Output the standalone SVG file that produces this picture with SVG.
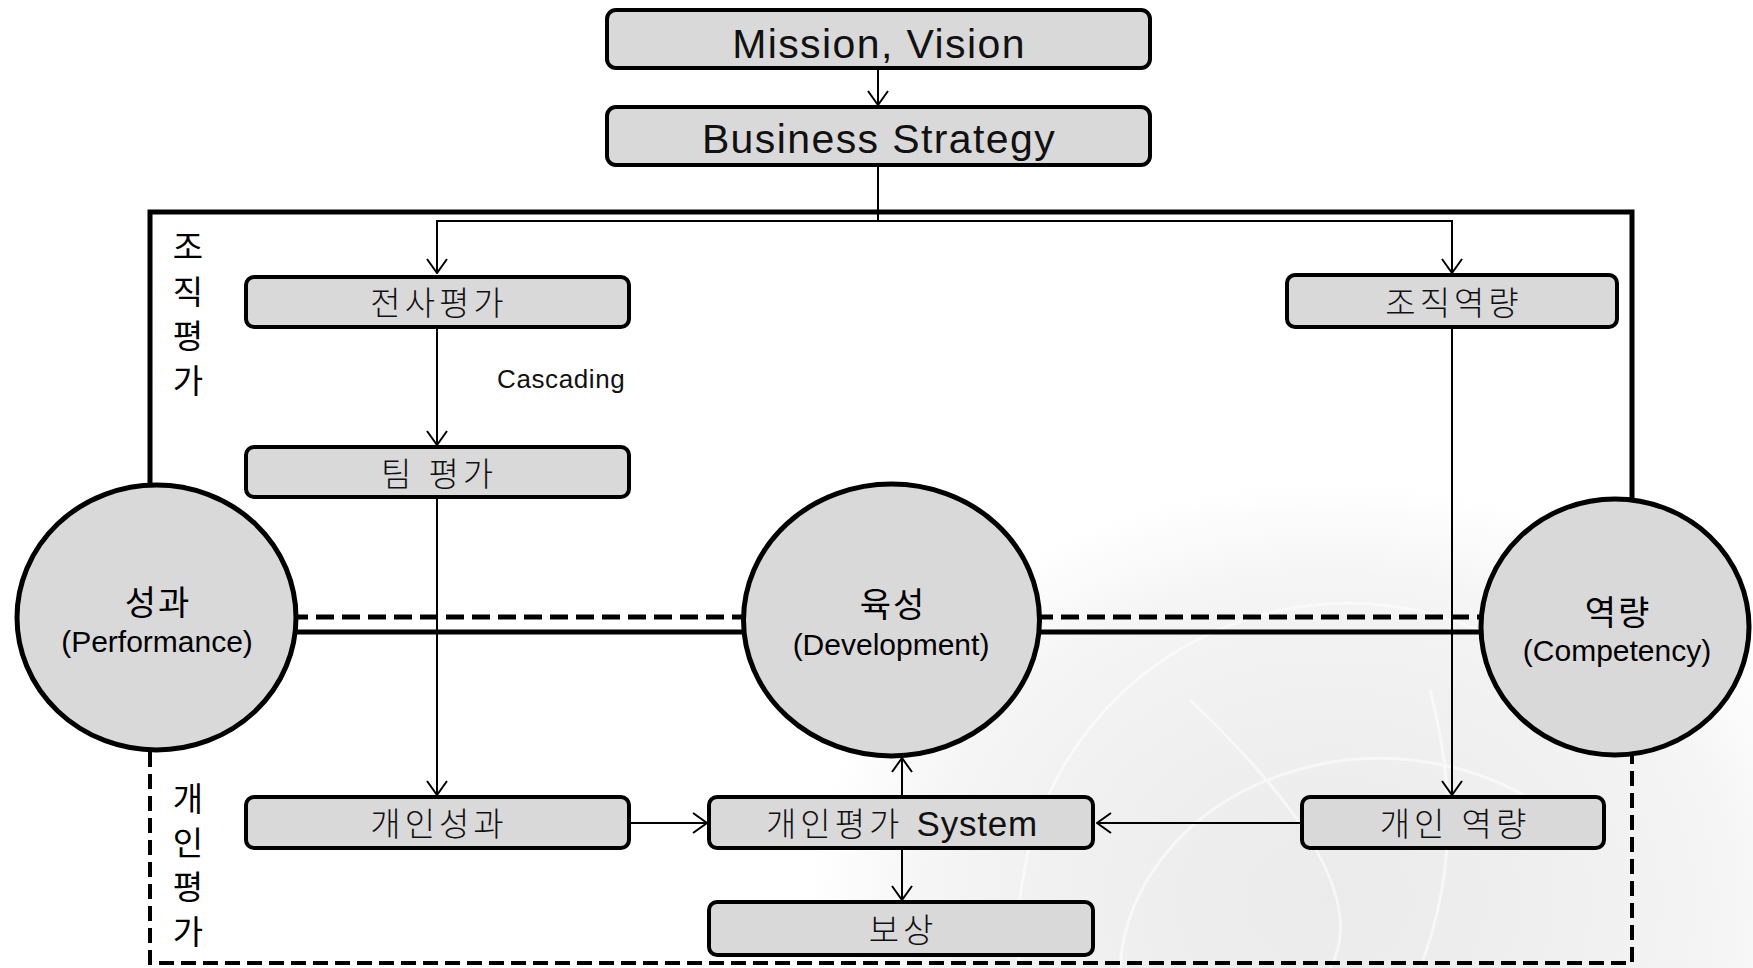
<svg xmlns="http://www.w3.org/2000/svg" width="1753" height="968" viewBox="0 0 1753 968">
  <defs>
    <style>
      .box { fill: #d9d9d9; stroke: #000; stroke-width: 4; }
      .hub { fill: #d9d9d9; stroke: #000; stroke-width: 5; }
      .conn { fill: none; stroke: #000; stroke-width: 2; }
      .frame { fill: none; stroke: #000; stroke-width: 5; }
      .frame-dash { fill: none; stroke: #000; stroke-width: 4; stroke-dasharray: 15 7; }
      .band { fill: none; stroke: #000; stroke-width: 5; }
      .band-dash { fill: none; stroke: #000; stroke-width: 5; stroke-dasharray: 18 8; }
      .title { font-family: "Liberation Sans", Arial, sans-serif; font-size: 41px; letter-spacing: 1.4px; fill: #111; text-anchor: middle; }
      .lbl { font-family: "Liberation Sans", "Noto Sans CJK KR", sans-serif; font-size: 33px; font-weight: 300; letter-spacing: 4px; fill: #111; text-anchor: middle; }
      .lat { font-size: 35px; letter-spacing: 0.8px; }
      .side { font-family: "Noto Sans CJK KR", sans-serif; font-size: 33px; fill: #000; text-anchor: middle; }
      .hub-ko { font-family: "Noto Sans CJK KR", sans-serif; font-size: 34px; letter-spacing: 2px; fill: #000; text-anchor: middle; }
      .hub-en { font-family: "Liberation Sans", Arial, sans-serif; font-size: 30px; fill: #000; text-anchor: middle; }
      .note { font-family: "Liberation Sans", Arial, sans-serif; font-size: 26px; letter-spacing: 0.6px; fill: #111; }
    </style>
    <marker id="arrow" viewBox="0 0 16 22" refX="15" refY="11" markerWidth="16" markerHeight="22" markerUnits="userSpaceOnUse" orient="auto">
      <path d="M1,1 L15,11 L1,21" fill="none" stroke="#000" stroke-width="2"/>
    </marker>
    <radialGradient id="haze" cx="0.5" cy="0.5" r="0.5">
      <stop offset="0" stop-color="#e9e9e9"/>
      <stop offset="0.7" stop-color="#f2f2f2"/>
      <stop offset="1" stop-color="#ffffff"/>
    </radialGradient>
  </defs>

  <rect width="1753" height="968" fill="#fff"/>

  <!-- faint globe backdrop, lower right -->
  <g id="backdrop" opacity="0.9">
    <ellipse cx="1330" cy="900" rx="520" ry="420" fill="url(#haze)"/>
    <g fill="none" stroke="#fff" stroke-width="3" opacity="0.6">
      <path d="M1020,968 A330,330 0 0 1 1600,720"/>
      <path d="M1120,968 A260,220 0 0 1 1560,820"/>
      <path d="M1190,700 Q1380,880 1330,968"/>
      <path d="M1430,690 Q1470,840 1420,968"/>
    </g>
  </g>

  <!-- outer frame: organisational (solid) and individual (dashed) -->
  <g id="frame">
    <path class="frame" d="M150,485 V212 H1632 V499"/>
    <path class="frame-dash" d="M150,752 V963 H1632 V756"/>
  </g>

  <!-- double band linking the three hubs -->
  <g id="band">
    <line class="band-dash" x1="290" y1="617" x2="750" y2="617"/>
    <line class="band-dash" x1="1035" y1="617" x2="1485" y2="617"/>
    <line class="band" x1="290" y1="632" x2="750" y2="632"/>
    <line class="band" x1="1035" y1="632" x2="1485" y2="632"/>
  </g>

  <g id="connectors">
    <line class="conn" x1="878" y1="70" x2="878" y2="105" marker-end="url(#arrow)"/>
    <path class="conn" d="M878,167 V221"/>
    <path class="conn" d="M437,273 V221 H1452 V273" marker-end="url(#arrow)"/>
    <line class="conn" x1="437" y1="221" x2="437" y2="273" marker-end="url(#arrow)"/>
    <line class="conn" x1="437" y1="328" x2="437" y2="445" marker-end="url(#arrow)"/>
    <line class="conn" x1="437" y1="499" x2="437" y2="795" marker-end="url(#arrow)"/>
    <line class="conn" x1="1452" y1="329" x2="1452" y2="795" marker-end="url(#arrow)"/>
    <line class="conn" x1="631" y1="823" x2="707" y2="823" marker-end="url(#arrow)"/>
    <line class="conn" x1="1300" y1="823" x2="1097" y2="823" marker-end="url(#arrow)"/>
    <line class="conn" x1="902" y1="850" x2="902" y2="900" marker-end="url(#arrow)"/>
  </g>

  <text class="note" x="497" y="388">Cascading</text>

  <!-- side labels -->
  <g id="label-org">
    <text class="side" x="188" y="259">조</text>
    <text class="side" x="188" y="304">직</text>
    <text class="side" x="188" y="348">평</text>
    <text class="side" x="188" y="393">가</text>
  </g>
  <g id="label-ind">
    <text class="side" x="188" y="811">개</text>
    <text class="side" x="188" y="855">인</text>
    <text class="side" x="188" y="899">평</text>
    <text class="side" x="188" y="944">가</text>
  </g>

  <g id="mission">
    <rect class="box" x="607" y="10" width="543" height="58" rx="9"/>
    <text class="title" x="879" y="58">Mission, Vision</text>
  </g>
  <g id="strategy">
    <rect class="box" x="607" y="107" width="543" height="58" rx="9"/>
    <text class="title" x="879" y="153">Business Strategy</text>
  </g>

  <g id="corp-eval">
    <rect class="box" x="246" y="277" width="383" height="50" rx="8"/>
    <text class="lbl" x="439" y="315">전사평가</text>
  </g>
  <g id="team-eval">
    <rect class="box" x="246" y="447" width="383" height="50" rx="8"/>
    <text class="lbl" x="439" y="486">팀 평가</text>
  </g>
  <g id="org-competency">
    <rect class="box" x="1287" y="275" width="330" height="52" rx="8"/>
    <text class="lbl" x="1454" y="315">조직역량</text>
  </g>
  <g id="ind-performance">
    <rect class="box" x="246" y="797" width="383" height="51" rx="8"/>
    <text class="lbl" x="439" y="836">개인성과</text>
  </g>
  <g id="ind-system">
    <rect class="box" x="709" y="797" width="384" height="51" rx="8"/>
    <text class="lbl" x="902" y="836">개인평가 <tspan class="lat">System</tspan></text>
  </g>
  <g id="ind-competency">
    <rect class="box" x="1302" y="797" width="302" height="51" rx="8"/>
    <text class="lbl" x="1455" y="836">개인 역량</text>
  </g>
  <g id="reward">
    <rect class="box" x="709" y="902" width="384" height="53" rx="8"/>
    <text class="lbl" x="903" y="942">보상</text>
  </g>

  <g id="hub-performance">
    <ellipse class="hub" cx="156.5" cy="617.5" rx="139.5" ry="132.5"/>
    <text class="hub-ko" x="158" y="615">성과</text>
    <text class="hub-en" x="157" y="652">(Performance)</text>
  </g>
  <g id="hub-development">
    <ellipse class="hub" cx="891.5" cy="620" rx="148" ry="136"/>
    <text class="hub-ko" x="893" y="617">육성</text>
    <text class="hub-en" x="891" y="655">(Development)</text>
  </g>
  <g id="hub-competency">
    <ellipse class="hub" cx="1615" cy="627" rx="134" ry="128"/>
    <text class="hub-ko" x="1618" y="625">역량</text>
    <text class="hub-en" x="1617" y="661">(Competency)</text>
  </g>

  <!-- feedback into the development hub, drawn over its outline -->
  <g id="connector-feedback">
    <line class="conn" x1="902" y1="797" x2="902" y2="758" marker-end="url(#arrow)"/>
  </g>
</svg>
